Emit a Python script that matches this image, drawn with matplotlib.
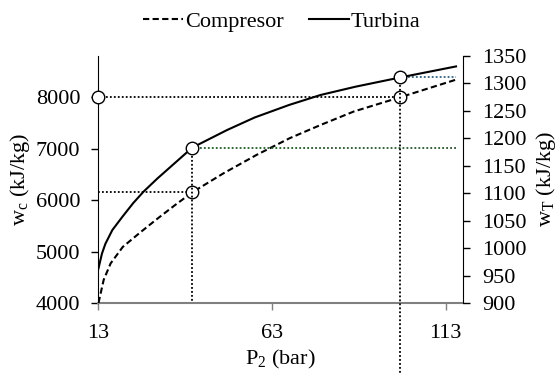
import matplotlib
matplotlib.use("Agg")
import matplotlib.pyplot as plt

plt.rcParams['font.family'] = 'serif'
plt.rcParams['font.serif'] = ['Liberation Serif']
plt.rcParams['mathtext.fontset'] = 'custom'
plt.rcParams['mathtext.rm'] = 'Liberation Serif'
plt.rcParams['mathtext.it'] = 'Liberation Serif:italic'
plt.rcParams['font.size'] = 16

# Data
p_comp = [13, 14.5, 16.5, 20, 25, 30, 35, 40, 49, 58.6, 68, 77, 86.5, 100, 116]
w_comp = [4000, 4450, 4770, 5090, 5370, 5640, 5900, 6150, 6520, 6880, 7200, 7460, 7720, 8000, 8340]

p_turb = [13, 14, 15, 17, 20, 23, 26, 30, 35, 40, 45, 50, 58, 68, 77, 87, 100, 116]
w_turb = [963, 990, 1008, 1033, 1058, 1082, 1103, 1127, 1155, 1183, 1199, 1215, 1238, 1261, 1279, 1294, 1311, 1331]

# Highlighted points
p_marks = [40, 100]
comp_marks = [6150, 8000]
turb_marks = [1183, 1311]

x_ticks = [13, 63, 113]
left_ticks = [4000, 5000, 6000, 7000, 8000]
right_ticks = [900, 950, 1000, 1050, 1100, 1150, 1200, 1250, 1300, 1350]

fig = plt.figure(figsize=(5.57, 3.74), dpi=100)
ax = fig.add_axes([0.1768, 0.1898, 0.8312 - 0.1768, 0.8503 - 0.1898])
ax2 = ax.twinx()

dash = (0, (3, 1.6))
dot = (0, (1, 1.2))

# Curves
lc, = ax.plot(p_comp, w_comp, color='black', lw=1.5, linestyle=dash, label='Compresor', zorder=3)
lt, = ax2.plot(p_turb, w_turb, color='black', lw=1.5, label='Turbina', zorder=3)

x0, x1 = 13, 118
ax.set_xlim(x0, x1)
ax.set_ylim(4000, 8800)
ax2.set_ylim(900, 1350)

# Guide lines (left axis)
ax.plot([x0, p_marks[1]], [comp_marks[1], comp_marks[1]], color='black', lw=1.3, linestyle=dot, zorder=2)
ax.plot([x0, p_marks[0]], [comp_marks[0], comp_marks[0]], color='black', lw=1.3, linestyle=dot, zorder=2)
# Guide lines (right axis)
ax2.plot([p_marks[0], 116], [turb_marks[0], turb_marks[0]], color='#1f5a24', lw=1.3, linestyle=dot, zorder=2)
ax2.plot([p_marks[1], 116], [turb_marks[1], turb_marks[1]], color='#2d5f7a', lw=1.3, linestyle=dot, zorder=2)
ax2.plot([p_marks[0], p_marks[0]], [turb_marks[0], 902], color='black', lw=1.3, linestyle=dot, zorder=2)
ax2.plot([p_marks[1], p_marks[1]], [turb_marks[1], 770], color='black', lw=1.3, linestyle=dot, zorder=2, clip_on=False)

# Markers
mk = dict(marker='o', ms=9, mfc='white', mec='black', mew=1.0, linestyle='none', clip_on=False, zorder=5)
ax.plot([x0], [comp_marks[1]], **mk)
ax.plot(p_marks, comp_marks, **mk)
ax2.plot(p_marks, turb_marks, **mk)

# Ticks
ax.set_xticks(x_ticks)
ax.set_yticks(left_ticks)
ax2.set_yticks(right_ticks)
ax.tick_params(axis='x', direction='out', length=5, width=1, color='#808080', pad=10)
ax.tick_params(axis='y', direction='out', length=5, width=1, pad=8)
ax2.tick_params(axis='y', direction='out', length=5, width=1, pad=9)

for a in (ax, ax2):
    a.spines['top'].set_visible(False)
    a.spines['left'].set_color('black')
    a.spines['right'].set_color('black')
    a.spines['bottom'].set_color('#808080')
    a.spines['bottom'].set_linewidth(1.5)
    a.patch.set_visible(False)
ax2.spines['left'].set_visible(False)
ax.spines['right'].set_visible(False)
ax2.spines['bottom'].set_visible(False)

ax.set_xlabel(r'P$_\mathregular{2}$ (bar)', labelpad=4)
ax.set_ylabel(r'w$_\mathregular{c}$ (kJ/kg)', labelpad=3)
ax2.set_ylabel(r'w$_\mathregular{T}$ (kJ/kg)', rotation=90, labelpad=5)

fig.legend(handles=[lc, lt], loc='center', bbox_to_anchor=(282 / 557, 1 - 22 / 374), ncol=2,
           frameon=False, handlelength=1.8, handletextpad=0.1, columnspacing=1.1, borderpad=0)

fig.savefig('out.png', dpi=100)
